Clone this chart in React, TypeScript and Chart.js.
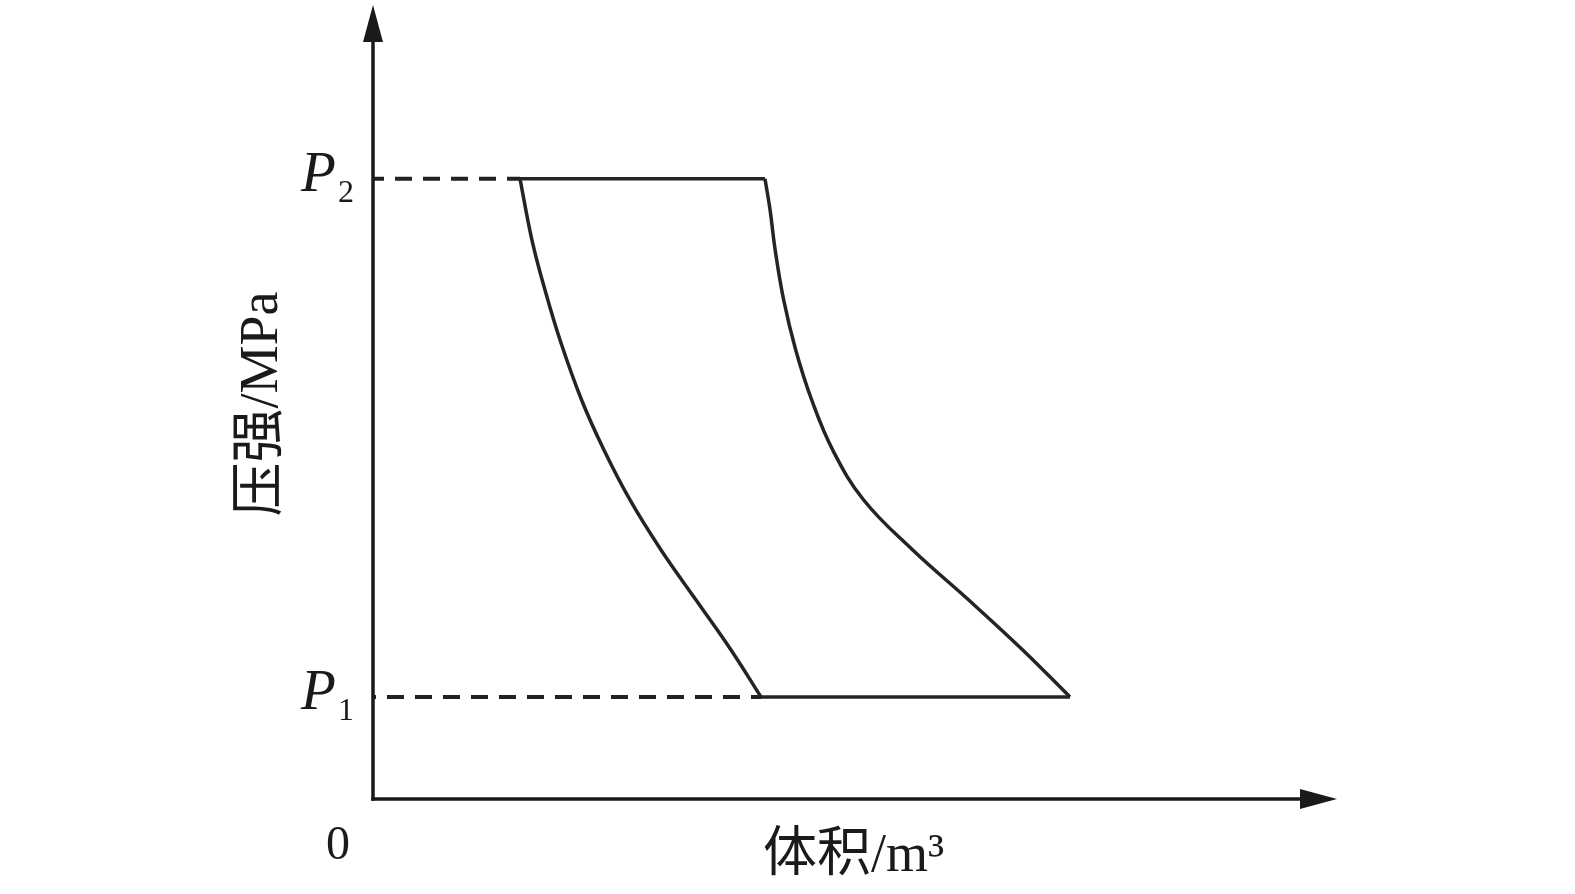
import React, { useEffect, useRef } from "react";
import { Chart, registerables } from "chart.js";

Chart.register(...registerables);

// Axis range (arbitrary units, origin at 0)
const X_MAX = 10;
const Y_MAX = 10;

// Pressure levels
const P1 = 1.285;
const P2 = 7.811;

// Upper isobar at P2
const topLineX = [1.525, 4.066];
// Lower isobar at P1
const bottomLineX = [4.025, 7.23];

// Left curve (volume, pressure)
const leftCurveX = [1.525, 1.649, 1.784, 1.94, 2.164, 2.396, 2.666, 2.988, 3.351, 3.714, 4.025];
const leftCurveY = [7.811, 7.04, 6.411, 5.781, 5.025, 4.395, 3.766, 3.136, 2.506, 1.877, 1.285];

// Right curve (volume, pressure)
const rightCurveX = [4.066, 4.118, 4.172, 4.26, 4.385, 4.551, 4.769, 5.09, 5.599, 6.18, 6.74, 7.23];
const rightCurveY = [7.811, 7.427, 6.914, 6.285, 5.655, 5.025, 4.395, 3.766, 3.136, 2.506, 1.877, 1.285];

const xTitle = "体积/m³";
const yTitle = "压强/MPa";
const originLabel = "0";
const pLabels = [
  { name: "P", sub: "2", value: P2 },
  { name: "P", sub: "1", value: P1 },
];

const LINE = "#242424";
const AXIS = "#1a1a1a";
const SERIF = "'Liberation Serif', 'Noto Sans CJK SC', serif";

const pts = (xs: number[], ys: number[]) => xs.map((x, i) => ({ x, y: ys[i] }));

const decorPlugin = {
  id: "decor",
  afterDraw(chart: any) {
    const { ctx } = chart;
    const xs = chart.scales.x;
    const ys = chart.scales.y;
    const ox = xs.getPixelForValue(0);
    const oy = ys.getPixelForValue(0);
    const tipX = xs.getPixelForValue(X_MAX);
    const tipY = ys.getPixelForValue(Y_MAX);
    ctx.save();
    ctx.strokeStyle = AXIS;
    ctx.fillStyle = AXIS;
    ctx.lineWidth = 3.5;
    // y axis
    ctx.beginPath();
    ctx.moveTo(ox, oy + 1.75);
    ctx.lineTo(ox, tipY + 30);
    ctx.stroke();
    ctx.beginPath();
    ctx.moveTo(ox, tipY);
    ctx.lineTo(ox - 10, tipY + 37);
    ctx.lineTo(ox + 10, tipY + 37);
    ctx.closePath();
    ctx.fill();
    // x axis
    ctx.beginPath();
    ctx.moveTo(ox - 1.75, oy);
    ctx.lineTo(tipX - 30, oy);
    ctx.stroke();
    ctx.beginPath();
    ctx.moveTo(tipX, oy);
    ctx.lineTo(tipX - 37, oy - 10);
    ctx.lineTo(tipX - 37, oy + 10);
    ctx.closePath();
    ctx.fill();

    // labels
    ctx.fillStyle = "#1a1a1a";
    ctx.textBaseline = "alphabetic";
    ctx.textAlign = "left";
    pLabels.forEach((p) => {
      const py = ys.getPixelForValue(p.value);
      ctx.font = `italic 57px ${SERIF}`;
      ctx.fillText(p.name, ox - 72, py + 12);
      ctx.font = `32px ${SERIF}`;
      ctx.fillText(p.sub, ox - 35, py + 23);
    });
    ctx.font = `48px ${SERIF}`;
    ctx.textAlign = "center";
    ctx.fillText(originLabel, ox - 35, oy + 60);

    ctx.font = `54px ${SERIF}`;
    ctx.textAlign = "left";
    ctx.fillText(xTitle, 763, oy + 72);

    ctx.translate(ox - 110, 404);
    ctx.rotate(-Math.PI / 2);
    ctx.textAlign = "center";
    ctx.textBaseline = "middle";
    ctx.fillText(yTitle, 0, 0);
    ctx.restore();
  },
};

export default function App() {
  const ref = useRef<HTMLCanvasElement | null>(null);
  useEffect(() => {
    if (!ref.current) return;
    const solid = (data: any[], tension = 0) => ({
      data,
      showLine: true,
      borderColor: LINE,
      borderWidth: 3.5,
      pointRadius: 0,
      tension,
      fill: false,
    });
    const dashed = (data: any[], offset: number) => ({
      data,
      showLine: true,
      borderColor: "#222",
      borderWidth: 4,
      borderDash: [17, 11],
      borderDashOffset: offset,
      pointRadius: 0,
      fill: false,
    });
    const chart = new Chart(ref.current, {
      type: "scatter",
      data: {
        datasets: [
          dashed([{ x: 0, y: P2 }, { x: topLineX[0], y: P2 }], 6),
          dashed([{ x: 0, y: P1 }, { x: bottomLineX[0], y: P1 }], 14),
          solid(topLineX.map((x) => ({ x, y: P2 }))),
          solid(bottomLineX.map((x) => ({ x, y: P1 }))),
          solid(pts(leftCurveX, leftCurveY), 0.4),
          solid(pts(rightCurveX, rightCurveY), 0.4),
        ] as any,
      },
      options: {
        responsive: false,
        animation: false,
        layout: { padding: { left: 373, right: 238, top: 5, bottom: 95 } },
        plugins: { legend: { display: false }, tooltip: { enabled: false } },
        scales: {
          x: { type: "linear", min: 0, max: X_MAX, display: false },
          y: { type: "linear", min: 0, max: Y_MAX, display: false },
        },
      },
      plugins: [decorPlugin],
    });
    return () => chart.destroy();
  }, []);
  return (
    <div style={{ position: "fixed", left: 0, top: 0, width: 1575, height: 894, background: "#fff" }}>
      <canvas ref={ref} width={1575} height={894} />
    </div>
  );
}
